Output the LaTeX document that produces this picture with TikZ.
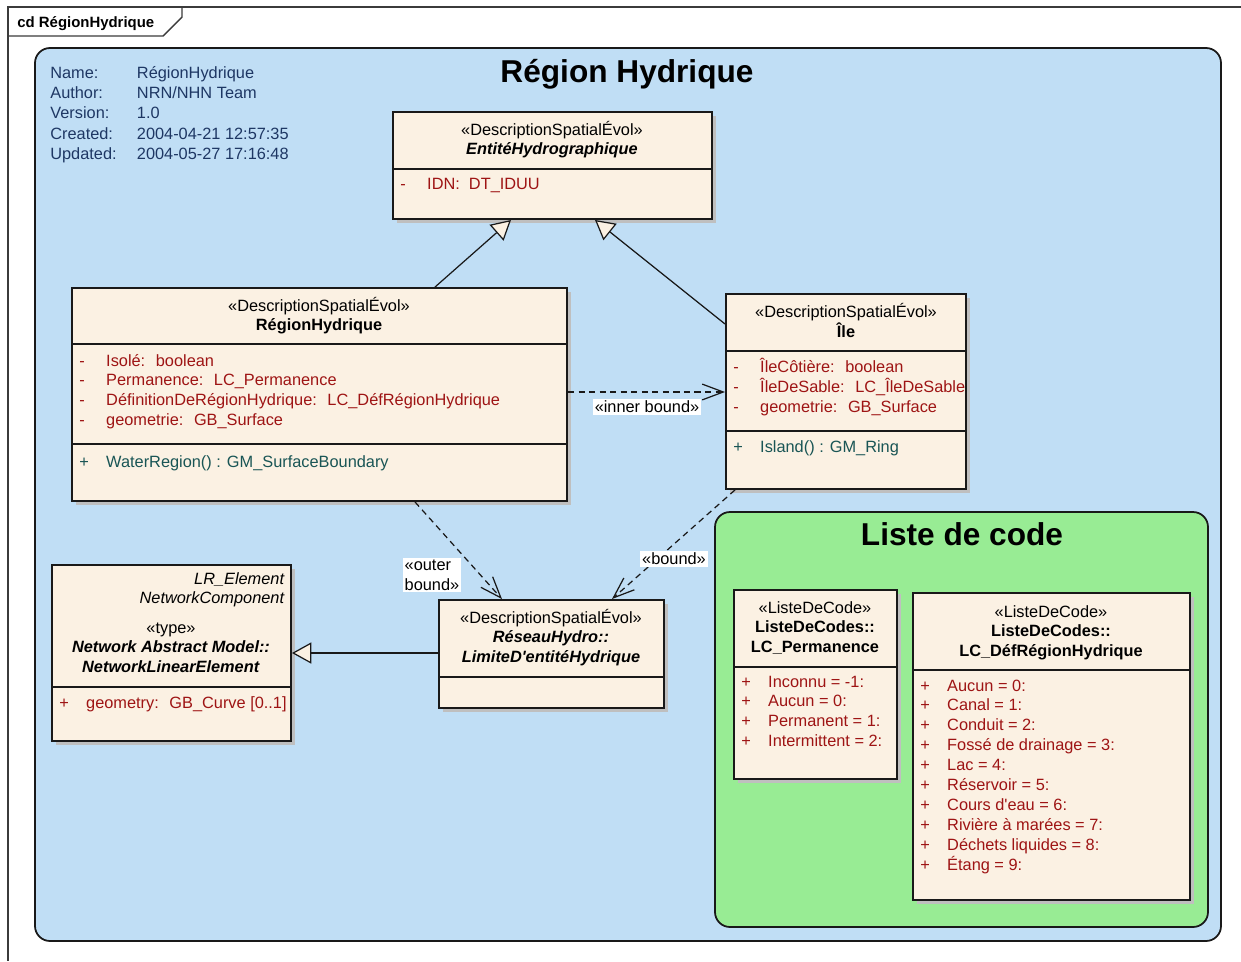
\documentclass[tikz,border=0pt]{standalone}
\usepackage{fontspec}
\setmainfont{Liberation Sans}
\usetikzlibrary{arrows.meta}
\usetikzlibrary{fit,shadows}
\colorlet{background}{white}
\definecolor{penColor}{RGB}{25,25,25}
\definecolor{packBlue}{RGB}{192,222,245}
\definecolor{packGreen}{RGB}{152,236,148}
\definecolor{classFill}{RGB}{251,241,227}
\definecolor{attrColor}{RGB}{158,20,20}
\definecolor{operColor}{RGB}{25,85,85}
\definecolor{infoColor}{RGB}{30,55,100}
\newcommand{\hd}[1]{\begin{tabular}[t]{@{}c@{}}#1\end{tabular}}
\newcommand{\rows}[1]{\begin{tabular}[t]{@{}p{15.3pt}@{}l@{}}#1\end{tabular}}
\tikzset{
  txt/.style={font=\fontsize{9.3}{11.34}\selectfont, inner sep=0pt, anchor=base},
  attr/.style={txt, anchor=base west, text=attrColor},
  oper/.style={txt, anchor=base west, text=operColor},
  info/.style={txt, anchor=base west, text=infoColor, font=\fontsize{9.3}{11.6}\selectfont},
  umlclass/.style={draw=penColor, line width=1.1pt, fill=classFill, inner sep=0pt,
    drop shadow={shadow xshift=2.5pt, shadow yshift=-2.5pt, fill=black!25, opacity=1}},
  sepline/.style={draw=penColor, line width=1.1pt},
  pack/.style={draw=penColor, line width=1pt, rounded corners=0.3cm},
  gen/.style={draw=penColor, line width=0.7pt, -{Triangle[length=11pt,width=12pt,fill=classFill]}},
  dep/.style={draw=penColor, line width=0.7pt, dash pattern=on 3.5pt off 2.5pt,
    -{Straight Barb[length=12pt,width=9pt]}},
  deplabel/.style={txt, fill=white, inner sep=1pt, anchor=center},
  title/.style={font=\fontsize{18}{22}\selectfont\bfseries, inner sep=0pt, anchor=base}
}
\begin{document}
\begin{tikzpicture}[x=0.02cm, y=-0.02cm]
\useasboundingbox (0,0) rectangle (1241,961);
\fill[background] (0,0) rectangle (1241,961);
% frame and tab
\draw[penColor!85, line width=0.8pt] (1241,7) -- (8,7) -- (8,961);
\draw[penColor!85, line width=0.8pt] (8,36) -- (163,36) -- (182,17) -- (182,7);
\node[font=\fontsize{8.5}{10}\selectfont\bfseries, inner sep=0pt, anchor=base west] (tab) at (17,27) {cd RégionHydrique};
% packages
\draw[pack, fill=packBlue] (35,48) rectangle (1221,941);
\draw[pack, fill=packGreen] (715,512) rectangle (1208,927);
\node[title] (ttl-region) at (627,82) {Région Hydrique};
\node[title] (ttl-liste) at (962,545) {Liste de code};
\node[info] (info) at (50,78) {\begin{tabular}[t]{@{}p{49.3pt}@{}l@{}}
Name: & RégionHydrique\\ Author: & NRN/NHN Team\\ Version: & 1.0\\
Created: & 2004-04-21 12:57:35\\ Updated: & 2004-05-27 17:16:48\end{tabular}};

% EntitéHydrographique
\node[umlclass, fit={(393,112) (712,219)}] (ent) {};
\draw[sepline] (ent.west |- 0,169) -- (ent.east |- 0,169);
\node[txt] (ent-hd) at (552,135) {\hd{«DescriptionSpatialÉvol»\\ \textbf{\textit{EntitéHydrographique}}}};
\node[attr] (ent-at) at (400,189) {\rows{- & IDN:~ DT\_IDUU}};

% RégionHydrique
\node[umlclass, fit={(72,288) (567,501)}] (reg) {};
\draw[sepline] (reg.west |- 0,344) -- (reg.east |- 0,344);
\draw[sepline] (reg.west |- 0,444) -- (reg.east |- 0,444);
\node[txt] (reg-hd) at (319,311) {\hd{«DescriptionSpatialÉvol»\\ \textbf{RégionHydrique}}};
\node[attr] (reg-at) at (79,366) {\rows{- & Isolé:~ boolean\\ - & Permanence:~ LC\_Permanence\\
  - & DéfinitionDeRégionHydrique:~ LC\_DéfRégionHydrique\\ - & geometrie:~ GB\_Surface}};
\node[oper] (reg-op) at (79,467) {\rows{+ & WaterRegion() : GM\_SurfaceBoundary}};

% Île
\node[umlclass, fit={(726,294) (966,489)}] (ile) {};
\draw[sepline] (ile.west |- 0,351) -- (ile.east |- 0,351);
\draw[sepline] (ile.west |- 0,431) -- (ile.east |- 0,431);
\node[txt] (ile-hd) at (846,317) {\hd{«DescriptionSpatialÉvol»\\ \textbf{Île}}};
\node[attr] (ile-at) at (733,372) {\rows{- & ÎleCôtière:~ boolean\\ - & ÎleDeSable:~ LC\_ÎleDeSable\\
  - & geometrie:~ GB\_Surface}};
\node[oper] (ile-op) at (733,452) {\rows{+ & Island() : GM\_Ring}};

% NetworkLinearElement
\node[umlclass, fit={(52,565) (291,741)}] (nle) {};
\draw[sepline] (nle.west |- 0,687) -- (nle.east |- 0,687);
\node[txt, anchor=base east] (nle-tg) at (285,584) {\begin{tabular}[t]{@{}r@{}}\textit{LR\_Element}\\ \textit{NetworkComponent}\end{tabular}};
\node[txt] (nle-hd) at (171,633) {\hd{«type»\\ \textbf{\textit{Network Abstract Model::}}\\ \textbf{\textit{NetworkLinearElement}}}};
\node[attr] (nle-at) at (59,708) {\rows{+ & geometry:~ GB\_Curve [0..1]}};

% LimiteD'entitéHydrique
\node[umlclass, fit={(439,600) (664,708)}] (lim) {};
\draw[sepline] (lim.west |- 0,677) -- (lim.east |- 0,677);
\node[txt] (lim-hd) at (551,623) {\hd{«DescriptionSpatialÉvol»\\ \textbf{\textit{RéseauHydro::}}\\ \textbf{\textit{LimiteD\textquotesingle entitéHydrique}}}};

% LC_Permanence
\node[umlclass, fit={(734,590) (897,779)}] (perm) {};
\draw[sepline] (perm.west |- 0,667) -- (perm.east |- 0,667);
\node[txt] (perm-hd) at (815,613) {\hd{«ListeDeCode»\\ \textbf{ListeDeCodes::}\\ \textbf{LC\_Permanence}}};
\node[attr] (perm-at) at (741,687) {\rows{+ & Inconnu = -1:\\ + & Aucun = 0:\\ + & Permanent = 1:\\ + & Intermittent = 2:}};

% LC_DéfRégionHydrique
\node[umlclass, fit={(913,593) (1190,900)}] (def) {};
\draw[sepline] (def.west |- 0,670) -- (def.east |- 0,670);
\node[txt] (def-hd) at (1051,617) {\hd{«ListeDeCode»\\ \textbf{ListeDeCodes::}\\ \textbf{LC\_DéfRégionHydrique}}};
\node[attr] (def-at) at (920,691) {\rows{+ & Aucun = 0:\\ + & Canal = 1:\\ + & Conduit = 2:\\
  + & Fossé de drainage = 3:\\ + & Lac = 4:\\ + & Réservoir = 5:\\ + & Cours d\textquotesingle eau = 6:\\
  + & Rivière à marées = 7:\\ + & Déchets liquides = 8:\\ + & Étang = 9:}};

% connectors
\draw[gen] (reg.north -| 435,0) -- (ent.south -| 511,0);
\draw[gen] (ile.west |- 0,324) -- (ent.south -| 595,0);
\draw[gen] (lim.west |- 0,653) -- (nle.east |- 0,653);
\draw[dep] (reg.east |- 0,392) -- (ile.west |- 0,392);
\draw[dep] (reg.south -| 415,0) -- (lim.north -| 502,0);
\draw[dep] (ile.south -| 735,0) -- (lim.north -| 612,0);
\node[deplabel] (lb-inner) at (647,407) {«inner bound»};
\node[deplabel, align=left] (lb-outer) at (432,575) {«outer\\bound»};
\node[deplabel] (lb-bound) at (674,559) {«bound»};
\end{tikzpicture}
\end{document}
